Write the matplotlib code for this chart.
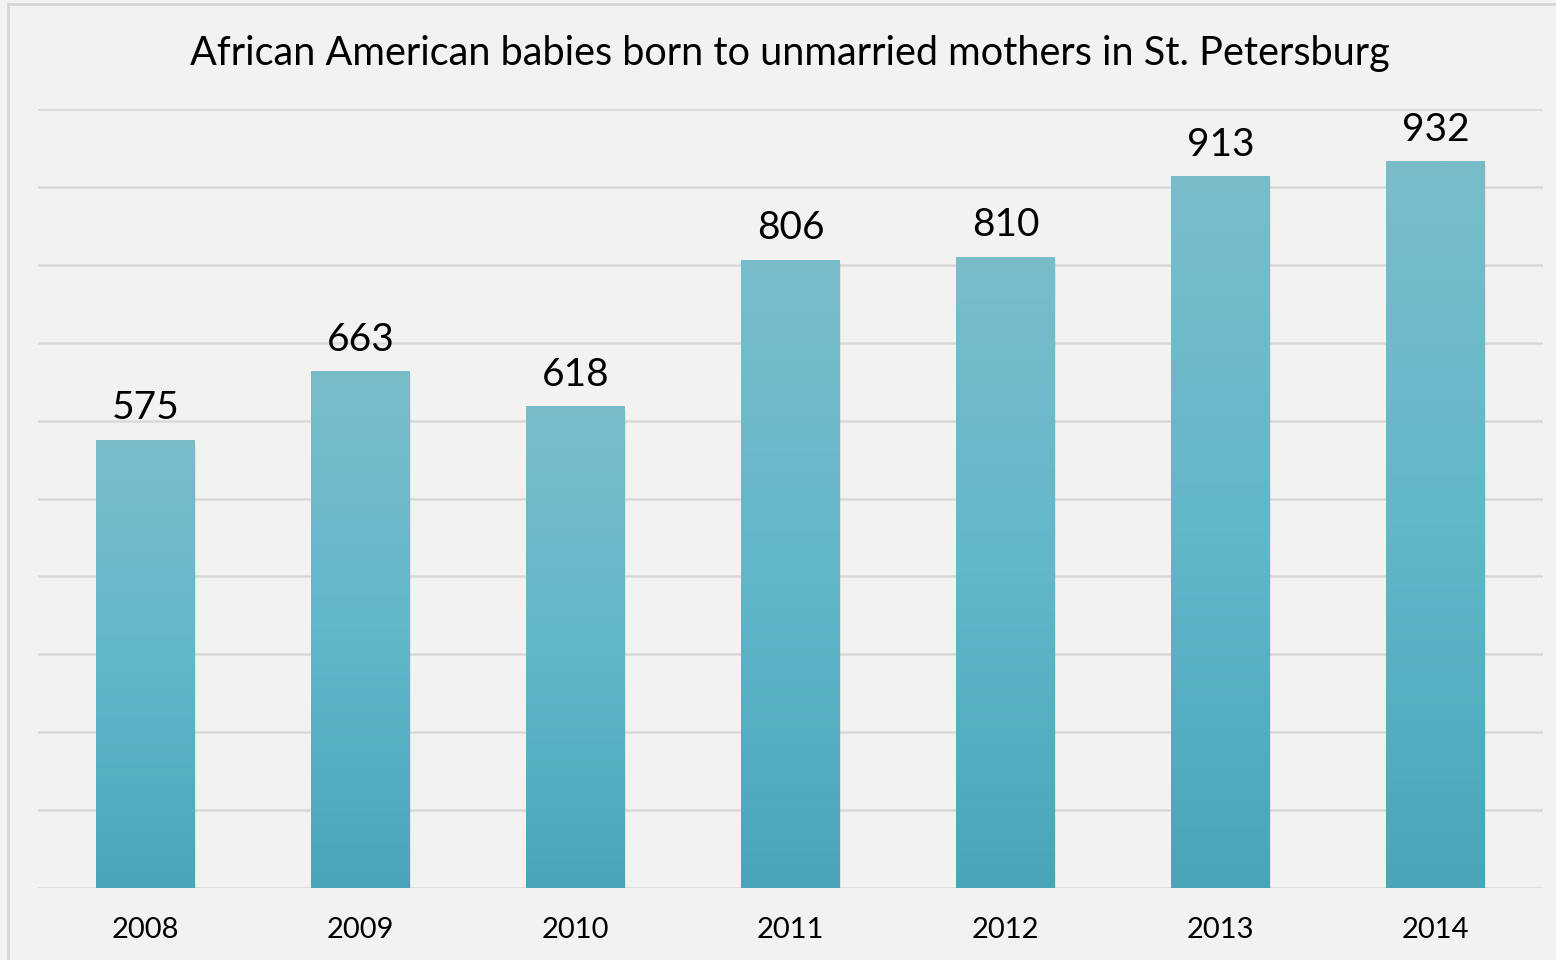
import matplotlib.pyplot as plt
import numpy as np
from matplotlib.colors import LinearSegmentedColormap
from matplotlib.patches import Rectangle

years = ['2008', '2009', '2010', '2011', '2012', '2013', '2014']
births = [575, 663, 618, 806, 810, 913, 932]

plt.rcParams['font.family'] = ['Lato', 'DejaVu Sans']

bg = '#f2f2f0'
cmap = LinearSegmentedColormap.from_list('bar', ['#4aa5b9', '#62b7ca', '#79bdcb'])

fig = plt.figure(figsize=(15.56, 9.6), dpi=100, facecolor=bg)
ax = fig.add_axes([38/1556, 1-888/960, 1505/1556, (888-109)/960])
ax.set_facecolor(bg)

# frame around chart area
fig.patches.append(Rectangle((8/1556, -0.01), 1.0, 1-4/960+0.01, transform=fig.transFigure,
                             fill=False, edgecolor='#d6d6d6', lw=2))

x = np.arange(len(years))
w = 0.458

for i, v in enumerate(births):
    grad = np.linspace(0, 1, 256).reshape(-1, 1)
    # soft shadow
    ax.add_patch(Rectangle((i - w/2 + 0.008, -4), w, v, color='#000000', alpha=0.06, lw=0, zorder=2))
    ax.imshow(grad, cmap=cmap, origin='lower', aspect='auto',
              extent=(i - w/2, i + w/2, 0, v), zorder=3)
    ax.text(i, v + 18, str(v), ha='center', va='bottom', fontsize=28, color='#000000', zorder=4)

ax.set_xlim(-0.5, len(years)-0.5)
ax.set_ylim(0, 1000)
ax.set_yticks(np.arange(0, 1001, 100))
ax.yaxis.grid(True, color='#d9d9d9', lw=1.8)
ax.set_axisbelow(True)
ax.tick_params(axis='y', left=False, labelleft=False)
ax.set_xticks(x)
ax.set_xticklabels(years, fontsize=21)
ax.tick_params(axis='x', length=0, pad=21)
for s in ax.spines.values():
    s.set_visible(False)

fig.text(790/1556, 1-53/960, 'African American babies born to unmarried mothers in St. Petersburg',
         ha='center', va='center', fontsize=28.5)

fig.savefig('out.png', dpi=100, facecolor=bg)
